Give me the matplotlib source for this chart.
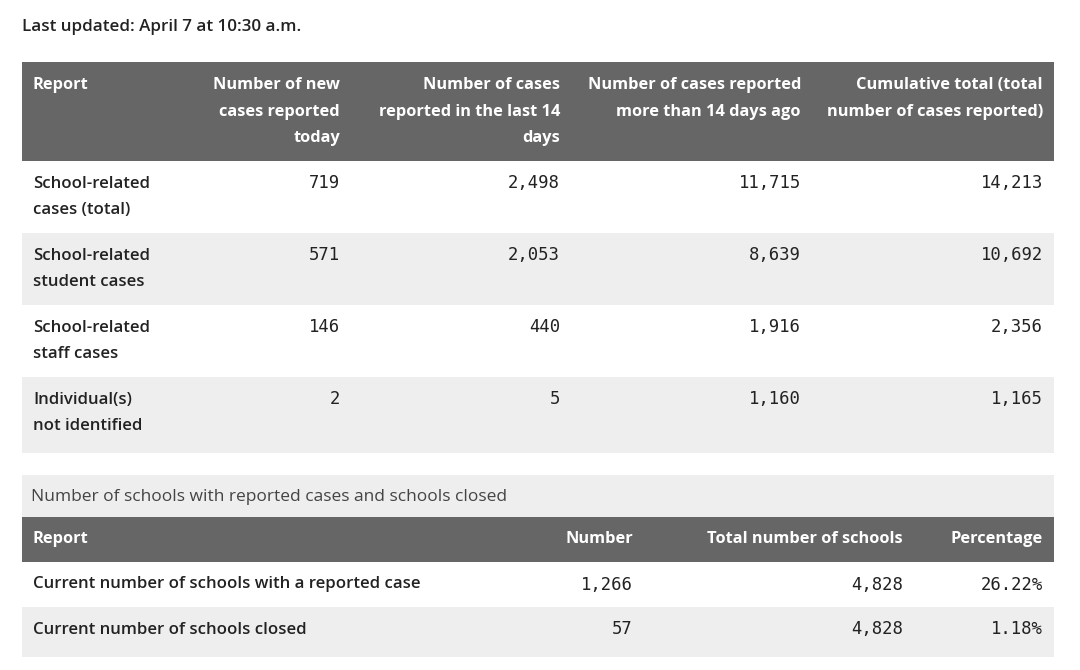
import matplotlib
matplotlib.use("Agg")
import matplotlib.pyplot as plt
from matplotlib.patches import Rectangle

# ---- data ----
updated_text = "Last updated: April 7 at 10:30 a.m."
t1_headers = ["Report",
              "Number of new\ncases reported\ntoday",
              "Number of cases\nreported in the last 14\ndays",
              "Number of cases reported\nmore than 14 days ago",
              "Cumulative total (total\nnumber of cases reported)"]
t1_labels = ["School-related\ncases (total)",
             "School-related\nstudent cases",
             "School-related\nstaff cases",
             "Individual(s)\nnot identified"]
new_today = ["719", "571", "146", "2"]
last_14 = ["2,498", "2,053", "440", "5"]
more_14 = ["11,715", "8,639", "1,916", "1,160"]
cumulative = ["14,213", "10,692", "2,356", "1,165"]

t2_caption = "Number of schools with reported cases and schools closed"
t2_headers = ["Report", "Number", "Total number of schools", "Percentage"]
t2_labels = ["Current number of schools with a reported case",
             "Current number of schools closed"]
t2_number = ["1,266", "57"]
t2_total = ["4,828", "4,828"]
t2_pct = ["26.22%", "1.18%"]

# ---- styling / layout ----
W, H = 1080, 670
DARK = "#666666"
GREY = "#eeeeee"
TXT = "#222222"
SANS = ["Open Sans", "DejaVu Sans"]
MONO = ["DejaVu Sans Mono"]
px = 72 / 100.0
HFS = 16.4 * px      # header bold
LFS = 16.8 * px      # row labels semibold
CFS = 17.4 * px      # caption regular
UFS = 17.0 * px      # last updated
MFS = 17.2 * px      # monospace numbers

fig = plt.figure(figsize=(W / 100, H / 100), dpi=100)
ax = fig.add_axes([0, 0, 1, 1])
ax.set_xlim(0, W)
ax.set_ylim(H, 0)
ax.axis("off")

L, R = 22, 1054
LINE = 26.5


def rect(y0, y1, color):
    ax.add_patch(Rectangle((L, y0), R - L, y1 - y0, facecolor=color,
                           edgecolor="none"))


def lines(x, y, text, ha, **kw):
    for i, s in enumerate(text.split("\n")):
        ax.text(x, y + i * LINE, s, ha=ha, va="center", **kw)


ax.text(22, 27, updated_text, ha="left", va="center", fontsize=UFS,
        family=SANS, weight="semibold", color=TXT)

# ---- table 1 ----
t1_right = [340, 560, 801, 1043]
hdr_top, hdr_bot = 62, 160.5
rect(hdr_top, hdr_bot, DARK)
lines(33, 85, t1_headers[0], "left", fontsize=HFS, family=SANS,
      weight="bold", color="white")
for xr, h in zip(t1_right, t1_headers[1:]):
    lines(xr, 85, h, "right", fontsize=HFS, family=SANS, weight="bold",
          color="white")

row_tops = [160.5, 233, 305, 377, 452.5]
cols = [new_today, last_14, more_14, cumulative]
for i, lab in enumerate(t1_labels):
    y0, y1 = row_tops[i], row_tops[i + 1]
    if i % 2 == 1:
        rect(y0, y1, GREY)
    lines(33, y0 + 23, lab, "left", fontsize=LFS, family=SANS,
          weight="semibold", color=TXT)
    for xr, col in zip(t1_right, cols):
        ax.text(xr, y0 + 22, col[i], ha="right", va="center",
                fontsize=MFS, family=MONO, color=TXT)

# ---- table 2 ----
rect(475, 516.5, GREY)
ax.text(31, 497, t2_caption, ha="left", va="center", fontsize=CFS,
        family=SANS, color="#444444")
rect(516.5, 562, DARK)
t2_right = [633, 903, 1043]
ax.text(33, 539, t2_headers[0], ha="left", va="center", fontsize=HFS,
        family=SANS, weight="bold", color="white")
for xr, h in zip(t2_right, t2_headers[1:]):
    ax.text(xr, 539, h, ha="right", va="center", fontsize=HFS,
            family=SANS, weight="bold", color="white")

t2_tops = [562, 607, 657]
cols2 = [t2_number, t2_total, t2_pct]
for i, lab in enumerate(t2_labels):
    y0, y1 = t2_tops[i], t2_tops[i + 1]
    if i % 2 == 1:
        rect(y0, y1, GREY)
    yc = y0 + 22.5
    ax.text(33, yc, lab, ha="left", va="center", fontsize=LFS, family=SANS,
            weight="semibold", color=TXT)
    for xr, col in zip(t2_right, cols2):
        ax.text(xr, yc, col[i], ha="right", va="center", fontsize=MFS,
                family=MONO, color=TXT)

fig.savefig("out.png", dpi=100, facecolor="white")
